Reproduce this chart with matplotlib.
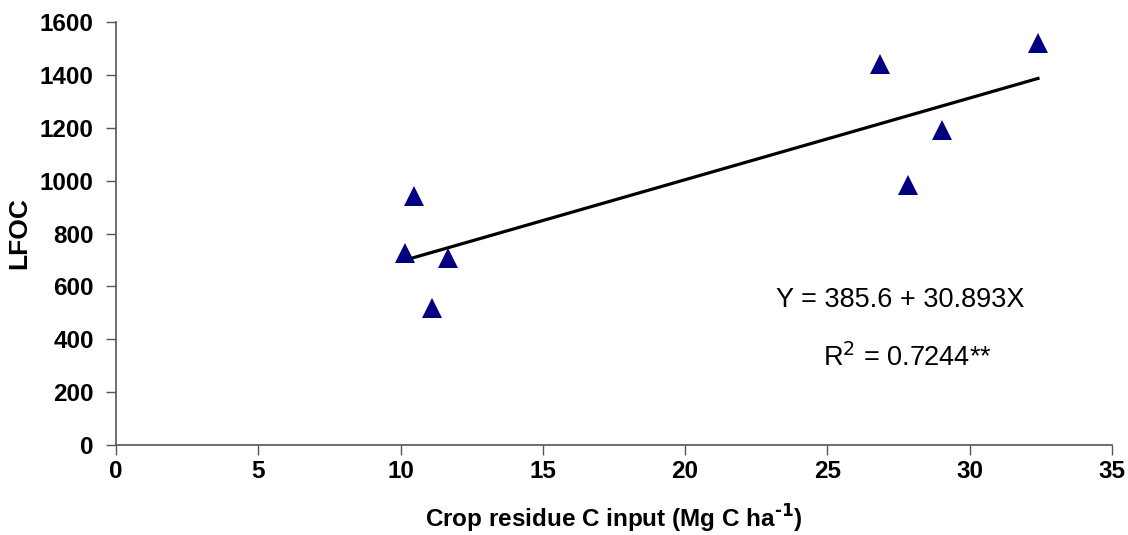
import numpy as np
import matplotlib
matplotlib.use('Agg')
import matplotlib.pyplot as plt

# crop residue C input vs LFOC
residue_c = [10.15, 10.47, 11.09, 11.67, 26.84, 27.84, 29.02, 32.40]
lfoc = [727, 943, 520, 706, 1441, 983, 1191, 1520]

# fitted regression
intercept = 385.6
slope = 30.893
r_squared = 0.7244

plt.rcParams['font.family'] = ['Liberation Sans', 'DejaVu Sans']
plt.rcParams['axes.unicode_minus'] = False

fig = plt.figure(figsize=(11.28, 5.35), dpi=100)
ax = fig.add_axes([0.1028, 0.1682, 0.8830, 0.7907])

ax.plot(residue_c, lfoc, linestyle='none', marker='^', markersize=14,
        color='#000080', markeredgewidth=0, zorder=3)

fit_x = np.array([min(residue_c), max(residue_c)])
ax.plot(fit_x, intercept + slope * fit_x, color='black', linewidth=2.3, zorder=2)

ax.set_xlim(0, 35)
ax.set_ylim(0, 1600)
ax.set_xticks(range(0, 36, 5))
ax.set_yticks(range(0, 1601, 200))

for side in ['top', 'right']:
    ax.spines[side].set_visible(False)
for side in ['left', 'bottom']:
    ax.spines[side].set_color('#555555')
    ax.spines[side].set_linewidth(1.2)

ax.tick_params(direction='out', length=7, width=1.0, color='#555555',
               labelsize=17.5, pad=9)
for lab in ax.get_xticklabels() + ax.get_yticklabels():
    lab.set_fontweight('bold')
ax.tick_params(axis='x', pad=4)

ax.set_ylabel('LFOC', fontsize=19, fontweight='bold', labelpad=6)
ax.set_xlabel('Crop residue C input (Mg C ha$^{\\mathbf{\u20101}}$)', fontsize=17.5,
              fontweight='bold', labelpad=14)

ax.text(27.55, 548, 'Y = %.1f + %.3fX' % (intercept, slope), fontsize=19.5,
        ha='center', va='center')
ax.text(27.8, 330, 'R$^2$ = %.4f**' % r_squared, fontsize=19.5,
        ha='center', va='center')

fig.savefig('out.png', dpi=100)
